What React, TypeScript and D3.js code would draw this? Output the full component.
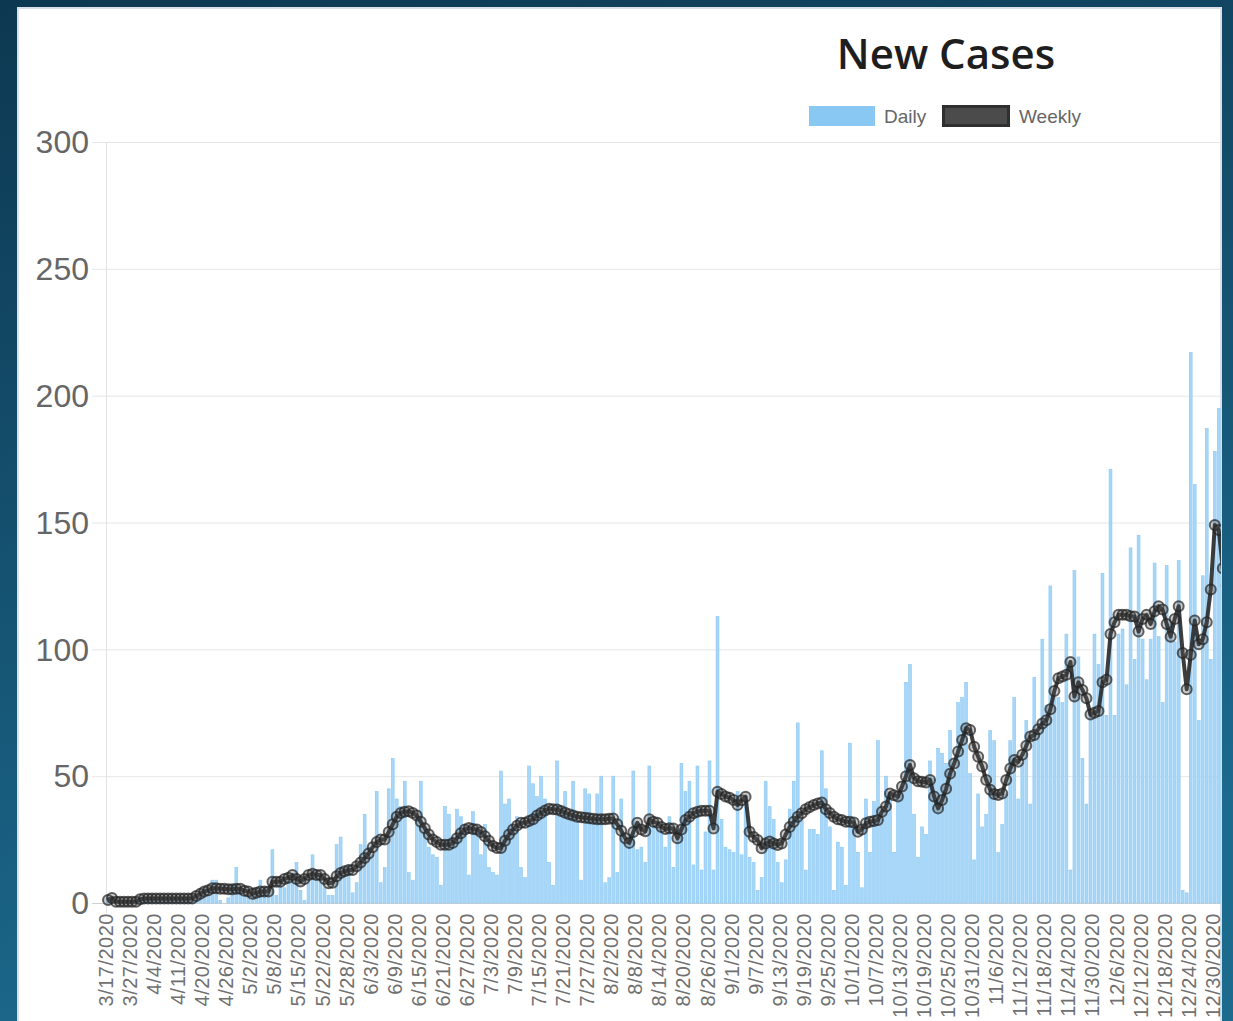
import React, { useEffect, useRef } from 'react'
import * as d3 from 'd3'

// dates in the feed start on 3/17/2020; a few early days are absent
const START_DATE = new Date(2020, 2, 17)
const MISSING_DATES = ['3/19/2020', '3/21/2020', '3/23/2020', '3/25/2020', '3/29/2020', '4/2/2020',
    '4/8/2020', '4/12/2020', '4/15/2020', '4/18/2020', '5/10/2020', '5/17/2020']

// new cases per day
const DAILY = [
    2, 1, 0, 1, 0, 0, 1, 0,
    2, 1, 2, 2, 1, 2, 2, 1, 2, 2, 1, 2, 2, 2,
    3, 5, 6, 3, 9, 9, 1, 0, 2, 7, 14, 6, 3, 3, 3, 6, 9, 6, 6, 21, 3, 9, 6, 11, 10, 16,
    5, 1, 9, 19, 12, 10, 6, 3, 3, 23, 26, 14, 15, 4, 8, 23, 35, 22, 19, 44,
    8, 14, 45, 57, 41, 38, 48, 12, 9, 34, 48, 30, 22, 19, 18, 7, 38, 35, 26, 37, 34, 31, 11, 36, 29, 19,
    31, 14, 12, 11, 52, 39, 41, 30, 34, 14, 10, 54, 47, 42, 50, 41, 16, 7, 56, 38, 44, 34, 48, 32, 9,
    45, 43, 33, 43, 50, 8, 10, 50, 12, 41, 23, 27, 52, 21, 22, 16, 54, 30, 29, 28, 22, 34,
    14, 29, 55, 44, 48, 15, 54, 13, 28, 56, 13, 113, 33, 22, 21, 20, 44, 19, 42, 18, 16, 5, 10, 48,
    38, 33, 16, 8, 17, 37, 48, 71, 33, 13, 29, 29, 27, 60, 45, 30, 5, 24, 22, 7, 63, 33, 20, 6,
    41, 20, 40, 64, 35, 50, 43, 20, 43, 46, 87, 94, 35, 18, 30, 27, 56, 49, 61, 59, 55, 68,
    52, 79, 81, 87, 51, 17, 43, 30, 35, 68, 64, 20, 31, 43, 64, 81, 41, 55, 72, 39, 89, 67,
    104, 78, 125, 81, 81, 79, 106, 13, 131, 97, 57, 39, 75, 106, 94, 130, 74, 171, 74, 106, 108, 86,
    140, 96, 145, 104, 88, 104, 134, 105, 79, 133, 110, 103, 135, 5, 4, 217, 165, 72, 129, 187, 96,
    178, 195, 150, 120
]

// weekly line
const WEEKLY = [
    1.2, 2, 0.5, 0.5, 0.5, 0.5, 0.5, 0.5, 1.5,
    1.8, 1.8, 1.8, 1.8, 1.8, 1.8, 1.8, 1.8, 1.8, 1.8, 1.8, 1.8, 1.8,
    2.8, 3.6, 4.5, 5, 5.8, 5.8, 5.6, 5.6, 5.4, 5.4, 5.6, 5.6, 4.8, 4.5, 3.6, 4, 4.5, 4.5, 4.5, 8.4, 8.4, 8.4, 9.5, 10, 11, 9.5,
    8.5, 9.5, 11, 11.5, 11, 11, 9.5, 7.8, 8, 10.5, 11.8, 12.5, 13, 13, 14.5, 16, 17.7, 19.5, 22, 24,
    25, 25, 28, 31, 34, 35.5, 36, 36.2, 35.5, 34.5, 32, 29.5, 27, 25, 24, 23, 23, 23, 23.7, 25.5, 27.5, 29, 29.6, 29.2, 29, 28,
    26.3, 24.5, 22.5, 21.7, 21.7, 24.5, 27, 29, 30.5, 31.6, 31.6, 32.3, 33, 34.5, 35.5, 36.5, 37.2, 37, 36.9, 36.3,
    35.6, 35, 34.5, 34, 33.8, 33.6, 33.4, 33.2, 33, 33, 33, 33.2, 33.3, 31, 28.5, 25.5, 23.7, 28, 31.6, 29, 28.3,
    33, 32, 31.6, 30, 29.2, 29.5,
    29.4, 25.5, 29, 32.7, 34, 35.4, 36, 36.4, 36.4, 36.4, 29.4, 43.9, 43, 42, 41.5, 40.6, 38.6, 40.5, 41.9, 28.1,
    26, 24.8, 21.6, 23.5, 24.2, 23.5, 22.9, 23.5, 27, 30, 32, 34, 35.4, 37, 37.8, 38.6, 39.2, 39.6, 37, 35.5,
    34, 33, 32.7, 32, 32, 31.7, 28.1, 29,
    31.4, 32, 32.3, 32.7, 36, 38, 43.2, 42.5, 42, 45.9, 50, 54.4, 49.2, 48, 47.8, 47.5, 48.5, 42, 37.3, 40.6,
    45, 51, 55, 59.7, 64.3, 68.9, 68.2, 61.6, 57.7, 53.8, 48.5, 44.6, 43, 42.6, 43.2, 48.5, 53, 56.4, 55.7, 58.4,
    62, 65.6, 66.2, 68.5,
    70.8, 72, 76.4, 83.6, 88.6, 89.3, 90, 95, 81.4, 87, 84, 80.7, 74.3, 75, 75.7, 87, 88, 106, 110.7, 113.6,
    113.6, 113.6, 113, 112.9, 107, 112, 113.6, 110, 115, 117, 115.7, 110, 105, 112, 117, 98.6, 84.3, 97.9, 111.4, 102,
    104, 110.7, 123.6, 149, 147, 132, 125
]

const Y_TICKS = [0, 50, 100, 150, 200, 250, 300]
const LABEL_EVERY = 6
const SERIES = ['Daily', 'Weekly']

const W = 1233, H = 1021

function buildDates(count: number): string[] {
    const out: string[] = []
    const d = new Date(START_DATE)
    while (out.length < count) {
        const s = (d.getMonth() + 1) + '/' + d.getDate() + '/' + d.getFullYear()
        if (MISSING_DATES.indexOf(s) < 0) out.push(s)
        d.setDate(d.getDate() + 1)
    }
    return out
}

export default function App() {
    const ref = useRef<SVGSVGElement>(null)

    useEffect(() => {
        const svg = d3.select(ref.current)
        svg.selectAll('*').remove()

        const dates = buildDates(DAILY.length)

        // plot box
        const left = 106, top = 142, bottom = 903
        const step = 4.01

        const xScale = d3.scaleBand<string>()
            .domain(dates)
            .range([left, left + step * dates.length])
            .paddingInner(0.28)
            .paddingOuter(0.14)
        const cx = (d: string) => (xScale(d) as number) + xScale.bandwidth() / 2

        const yScale = d3.scaleLinear()
            .domain([0, 300])
            .range([bottom, top])

        // page background + white card
        const defs = svg.append('defs')
        const grad = defs.append('linearGradient')
            .attr('id', 'bg').attr('x1', 0).attr('y1', 0).attr('x2', 0.3).attr('y2', 1)
        grad.append('stop').attr('offset', '0%').attr('stop-color', '#0d3851')
        grad.append('stop').attr('offset', '100%').attr('stop-color', '#1c6a8e')
        defs.append('clipPath').attr('id', 'card')
            .append('rect').attr('x', 18).attr('y', 8).attr('width', 1203).attr('height', H)

        svg.append('rect').attr('width', W).attr('height', H).attr('fill', 'url(#bg)')
        svg.append('rect')
            .attr('x', 18).attr('y', 8).attr('width', 1203).attr('height', H)
            .attr('fill', '#fff')
            .attr('stroke', '#d9e0e8').attr('stroke-width', 2)

        const g = svg.append('g').attr('clip-path', 'url(#card)')

        // title
        g.append('text')
            .attr('x', 946).attr('y', 69)
            .attr('text-anchor', 'middle')
            .style('font-family', '"Open Sans", "Noto Sans", sans-serif')
            .style('font-weight', 600)
            .style('font-size', '42px')
            .attr('fill', '#1e1e1e')
            .text('New Cases')

        // legend
        const legend = g.append('g').style('font-family', '"Liberation Sans", Arial, sans-serif')
        legend.append('rect').attr('x', 809).attr('y', 106).attr('width', 66).attr('height', 20)
            .attr('fill', '#88c8f3')
        legend.append('text').attr('x', 884).attr('y', 123).style('font-size', '19px')
            .attr('fill', '#666').text(SERIES[0])
        legend.append('rect').attr('x', 943.5).attr('y', 106.5).attr('width', 65).attr('height', 19)
            .attr('fill', '#4b4b4b').attr('stroke', '#2f2f2f').attr('stroke-width', 3)
        legend.append('text').attr('x', 1019).attr('y', 123).style('font-size', '19px')
            .attr('fill', '#666').text(SERIES[1])

        // y grid + ticks
        const yAxis = g.append('g').style('font-family', '"Liberation Sans", Arial, sans-serif')
        yAxis.selectAll('.grid')
            .data(Y_TICKS)
            .enter().append('line')
            .attr('x1', 92).attr('x2', W)
            .attr('y1', d => yScale(d) + 0.5).attr('y2', d => yScale(d) + 0.5)
            .attr('stroke', d => d === 0 ? '#cfcfcf' : '#e6e6e6')
        yAxis.append('line')
            .attr('x1', left + 0.5).attr('x2', left + 0.5)
            .attr('y1', top).attr('y2', bottom + 10)
            .attr('stroke', '#e3e3e3')
        yAxis.selectAll('.lbl')
            .data(Y_TICKS)
            .enter().append('text')
            .attr('x', 89).attr('y', d => yScale(d))
            .attr('dy', '0.35em')
            .attr('text-anchor', 'end')
            .style('font-size', '32px')
            .attr('fill', '#666')
            .text(d => d)

        // daily bars
        g.append('g').selectAll('rect')
            .data(DAILY)
            .enter().append('rect')
            .attr('x', (d, i) => xScale(dates[i]) as number)
            .attr('width', xScale.bandwidth())
            .attr('y', d => yScale(d))
            .attr('height', d => bottom - yScale(d))
            .attr('fill', '#a6d6f8')
            .attr('stroke', '#8dc9f3')
            .attr('stroke-width', 0.6)

        // x labels, every 6th date
        g.append('g').selectAll('text')
            .data(dates.filter((d, i) => i % LABEL_EVERY === 0))
            .enter().append('text')
            .attr('transform', d => 'translate(' + (cx(d) - 2) + ',' + 913 + ') rotate(-90)')
            .attr('text-anchor', 'end')
            .attr('dy', '0.35em')
            .style('font-family', '"Liberation Sans", Arial, sans-serif')
            .style('font-size', '20px')
            .style('letter-spacing', '0.5px')
            .attr('fill', '#707070')
            .text(d => d)

        // weekly line + point markers
        const line = d3.line<number>()
            .x((d, i) => cx(dates[i]))
            .y(d => yScale(d))
        g.append('path')
            .datum(WEEKLY)
            .attr('fill', 'none')
            .attr('stroke', 'rgba(40,40,40,0.9)')
            .attr('stroke-width', 4)
            .attr('stroke-linejoin', 'round')
            .attr('d', line)
        g.append('g').selectAll('circle')
            .data(WEEKLY)
            .enter().append('circle')
            .attr('cx', (d, i) => cx(dates[i]))
            .attr('cy', d => yScale(d))
            .attr('r', 5)
            .attr('fill', 'rgba(80,80,80,0.3)')
            .attr('stroke', 'rgba(35,35,35,0.7)')
            .attr('stroke-width', 2)
    }, [])

    return (
        <div style={{ position: 'absolute', left: 0, top: 0 }}>
            <svg ref={ref} width={W} height={H} style={{ display: 'block' }} />
        </div>
    )
}
